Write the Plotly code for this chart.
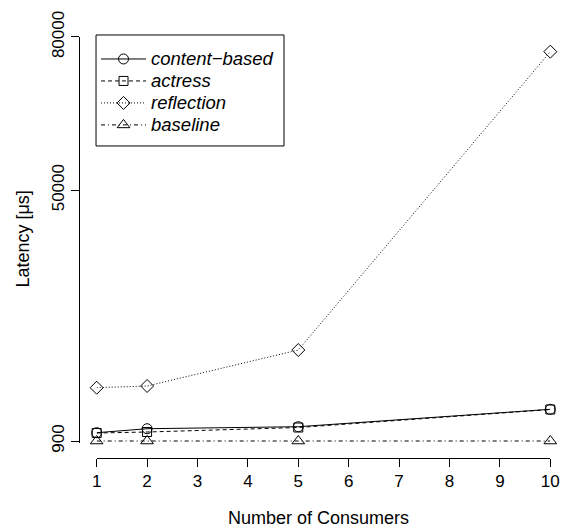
import plotly.graph_objects as go

consumers = [1, 2, 5, 10]
content_based = [2525, 3308, 3700, 7107]
actress = [2466, 2662, 3543, 7067]
reflection = [11336, 11669, 18717, 77122]
baseline = [900, 900, 900, 900]

y_ticks = [900, 50000, 80000]
x_ticks = [1, 2, 3, 4, 5, 6, 7, 8, 9, 10]

FONT = "Liberation Sans"
FS = 18

series = [
    ("content\u2212based", content_based, "solid", "circle-open", 10),
    ("actress", actress, "4px,3px", "square-open", 9),
    ("reflection", reflection, "1px,2px", "diamond-open", 10),
    ("baseline", baseline, "4px,3px,1px,3px", "triangle-up-open", 11),
]

fig = go.Figure()
for name, vals, dash, sym, size in series:
    fig.add_trace(go.Scatter(
        x=consumers, y=vals, name=f'<span style="font-size:18.5px">{name}</span>',
        mode="lines+markers",
        line=dict(color="black", width=1, dash=dash),
        marker=dict(symbol=sym, size=size, color="black", line=dict(width=1, color="black")),
        cliponaxis=False,
    ))

fig.update_layout(
    width=563, height=532,
    margin=dict(l=79, r=6, t=21, b=74, autoexpand=False),
    paper_bgcolor="white", plot_bgcolor="white",
    font=dict(family=FONT, size=FS, color="black"),
    showlegend=True,
    legend=dict(
        x=0.0356, y=0.9497, xanchor="left", yanchor="top",
        borderwidth=0, bgcolor="rgba(0,0,0,0)",
        font=dict(family=FONT, size=14.6, style="italic"),
        itemwidth=45, tracegroupgap=0,
    ),
    shapes=[
        # legend frame
        dict(type="rect", xref="paper", yref="paper",
             x0=0.0356, x1=0.4289, y0=0.714, y1=0.968,
             line=dict(color="black", width=1), fillcolor="white", layer="below"),
    ],
    xaxis=dict(
        domain=[0.0370, 0.9860], range=[1, 10], anchor="free", position=0,
        automargin=False, ticklabeloverflow="allow",
        tickmode="array", tickvals=x_ticks, ticktext=[str(v) for v in x_ticks],
        tickfont=dict(family=FONT, size=17),
        ticks="outside", ticklen=8, tickwidth=1, tickcolor="black",
        showline=True, linecolor="black", linewidth=1,
        showgrid=False, zeroline=False,
    ),
    yaxis=dict(
        domain=[0.0342, 0.9634], range=[500, 80000], anchor="free", position=0,
        automargin=False, ticklabeloverflow="allow",
        tickmode="array", tickvals=y_ticks, ticktext=[str(v) for v in y_ticks],
        tickangle=-90,
        tickfont=dict(family=FONT, size=17),
        ticks="outside", ticklen=8, tickwidth=1, tickcolor="black",
        showline=True, linecolor="black", linewidth=1,
        showgrid=False, zeroline=False,
    ),
    annotations=[
        dict(text="Number of Consumers", xref="paper", yref="paper",
             x=0.5, y=-0.1373, xanchor="center", yanchor="middle",
             showarrow=False, font=dict(family=FONT, size=FS)),
        dict(text="Latency [\u03bcs]", xref="paper", yref="paper",
             x=-0.119, y=0.5, xanchor="center", yanchor="middle", textangle=-90,
             showarrow=False, font=dict(family=FONT, size=FS)),
    ],
)

# remove the browser's default 8px page margin so the figure fills the window
fig.write_html("out.html", config={"displayModeBar": False},
               post_script="document.body.style.margin='0';")
